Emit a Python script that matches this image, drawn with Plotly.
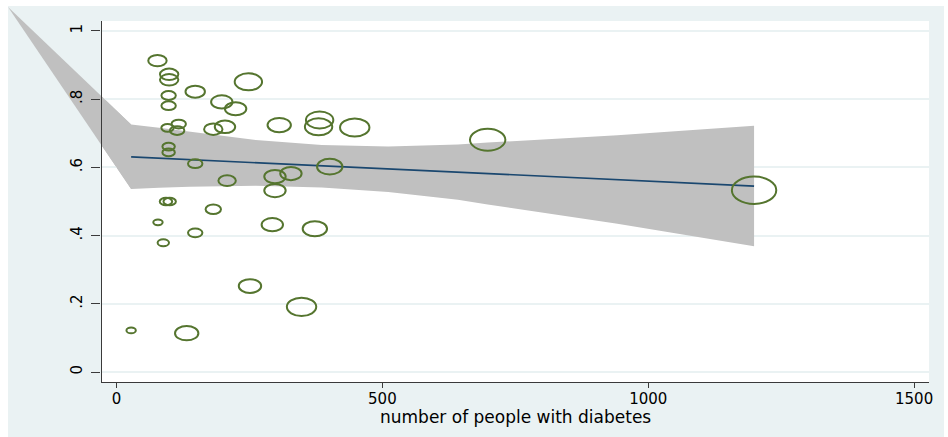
import plotly.graph_objects as go

# ---------------- data ----------------
# bubbles: number of people with diabetes (x), proportion (y), weight (bubble area)
people = [77, 99, 99, 148, 248, 98, 98, 198, 224, 96,
          117, 114, 182, 204, 98, 98, 306, 382, 380, 448,
          208, 298, 328, 401, 298, 148, 93, 100, 182, 78,
          148, 88, 293, 373, 251, 348, 27.5, 132, 698, 1199]
proportion = [0.913, 0.873, 0.857, 0.822, 0.851, 0.811, 0.781, 0.792, 0.772, 0.716,
              0.727, 0.708, 0.712, 0.719, 0.661, 0.644, 0.724, 0.739, 0.719, 0.717,
              0.561, 0.573, 0.582, 0.602, 0.532, 0.611, 0.500, 0.500, 0.477, 0.439,
              0.408, 0.379, 0.432, 0.420, 0.252, 0.191, 0.122, 0.114, 0.681, 0.533]
weights = [189, 189, 189, 208, 397, 121, 121, 250, 250, 93,
           121, 121, 189, 229, 93, 93, 295, 397, 397, 454,
           171, 250, 250, 345, 250, 121, 93, 93, 137, 57,
           121, 80, 250, 319, 272, 454, 57, 295, 647, 1000]

# fitted line
fit_x = [27.5, 1199]
fit_y = [0.631, 0.545]

# confidence band
ci_x = [27.5, 80, 137, 174, 262, 386, 511, 642, 698, 942, 1199]
ci_upper = [0.726, 0.716, 0.705, 0.699, 0.680, 0.666, 0.661, 0.667, 0.673, 0.694, 0.722]
ci_lower = [0.537, 0.540, 0.543, 0.545, 0.546, 0.541, 0.528, 0.505, 0.491, 0.435, 0.369]
# stray vertex of the band polygon (drawn outside the plot region)
ci_origin_x = -204
ci_origin_y = 1.070

x_ticks = [0, 500, 1000, 1500]
x_ticktext = ["0", "500", "1000", "1500"]
y_ticks = [0, 0.2, 0.4, 0.6, 0.8, 1.0]
y_ticktext = ["0", ".2", ".4", ".6", ".8", "1"]
x_title = "number of people with diabetes"

# ---------------- layout geometry ----------------
W, H = 948, 437
plot_l, plot_r, plot_t, plot_b = 102, 933, 21, 382
x_range = [-28.09, 1528.09]
y_range = [-0.0293, 1.0293]

xdom = [plot_l / W, plot_r / W]
ydom = [(H - plot_b) / H, (H - plot_t) / H]

# full-figure background axes share the same data-to-pixel mapping
sx = (x_range[1] - x_range[0]) / (plot_r - plot_l)
sy = (y_range[1] - y_range[0]) / (plot_b - plot_t)
xf_range = [x_range[0] - plot_l * sx, x_range[1] + (W - plot_r) * sx]
yf_range = [y_range[0] - (H - plot_b) * sy, y_range[1] + plot_t * sy]

GREEN = "#55752f"
NAVY = "#1a476f"
BAND = "#c0c0c0"
REGION = "#eaf2f3"
AXIS = "#3a3a3a"
FONT = "DejaVu Sans"

fig = go.Figure()

# part of band polygon spilling outside the plot region (full-figure axes, drawn first)
fig.add_trace(go.Scatter(x=[ci_origin_x, ci_x[0], ci_x[0], ci_origin_x],
                         y=[ci_origin_y, ci_upper[0], ci_lower[0], ci_origin_y],
                         mode="lines", fill="toself", fillcolor=BAND,
                         line=dict(width=0, color=BAND), hoverinfo="skip",
                         showlegend=False, xaxis="x", yaxis="y"))

# band (full polygon, clipped to plot region)
band_x = [ci_origin_x] + ci_x + ci_x[::-1] + [ci_origin_x]
band_y = [ci_origin_y] + ci_upper + ci_lower[::-1] + [ci_origin_y]
fig.add_trace(go.Scatter(x=band_x, y=band_y, mode="lines", fill="toself",
                         fillcolor=BAND, line=dict(width=0, color=BAND),
                         hoverinfo="skip", showlegend=False, xaxis="x2", yaxis="y2"))

# fitted line
fig.add_trace(go.Scatter(x=fit_x, y=fit_y, mode="lines",
                         line=dict(color=NAVY, width=1.6),
                         showlegend=False, xaxis="x2", yaxis="y2"))

# points (invisible markers for hover; ellipses drawn as shapes)
fig.add_trace(go.Scatter(x=people, y=proportion, mode="markers",
                         marker=dict(size=10, opacity=0),
                         showlegend=False, xaxis="x2", yaxis="y2"))

shapes = [
    dict(type="rect", xref="paper", yref="paper", x0=8 / W, x1=1, y0=0, y1=(H - 6) / H,
         fillcolor=REGION, line=dict(width=0), layer="below"),
    dict(type="rect", xref="paper", yref="paper", x0=xdom[0], x1=xdom[1], y0=ydom[0], y1=ydom[1],
         fillcolor="white", line=dict(width=0), layer="below"),
]

max_w = max(weights)
aspect = 1.62
for px_, py_, w_ in zip(people, proportion, weights):
    d = 46 * (w_ / max_w) ** 0.5 - 1.6
    hx, hy = d / 2, d / aspect / 2
    shapes.append(dict(type="circle", xref="x2", yref="y2",
                       xsizemode="pixel", ysizemode="pixel",
                       xanchor=px_, yanchor=py_,
                       x0=-hx, x1=hx, y0=-hy, y1=hy,
                       line=dict(color=GREEN, width=2), layer="above"))

fig.update_layout(
    width=W, height=H, autosize=False,
    margin=dict(l=0, r=0, t=0, b=0, pad=0),
    paper_bgcolor="white", plot_bgcolor="rgba(0,0,0,0)",
    showlegend=False,
    font=dict(family=FONT, size=15, color="black"),
    shapes=shapes,
    annotations=[dict(text=x_title, xref="paper", yref="paper",
                      x=(xdom[0] + xdom[1]) / 2, y=(H - 417) / H,
                      xanchor="center", yanchor="middle", showarrow=False,
                      font=dict(family=FONT, size=17, color="black"))],
    xaxis=dict(domain=[0, 1], anchor="y", range=xf_range, visible=False, fixedrange=True),
    yaxis=dict(domain=[0, 1], anchor="x", range=yf_range, visible=False, fixedrange=True),
    xaxis2=dict(domain=xdom, anchor="y2", range=x_range, tickvals=x_ticks, ticktext=x_ticktext,
                ticks="outside", ticklen=5, tickwidth=1.2, tickcolor=AXIS,
                showline=True, linecolor=AXIS, linewidth=1.3, showgrid=False, zeroline=False,
                ticklabelstandoff=-2,
                tickfont=dict(family=FONT, size=15, color="black")),
    yaxis2=dict(domain=ydom, anchor="x2", range=y_range, tickvals=y_ticks, ticktext=y_ticktext,
                tickangle=-90, ticks="outside", ticklen=9, tickwidth=1.2, tickcolor=AXIS,
                showline=True, linecolor=AXIS, linewidth=1.3, showgrid=True,
                gridcolor=REGION, gridwidth=1.6, zeroline=False, ticklabelstandoff=3,
                tickfont=dict(family=FONT, size=15, color="black")),
)

fig.write_html("out.html")
